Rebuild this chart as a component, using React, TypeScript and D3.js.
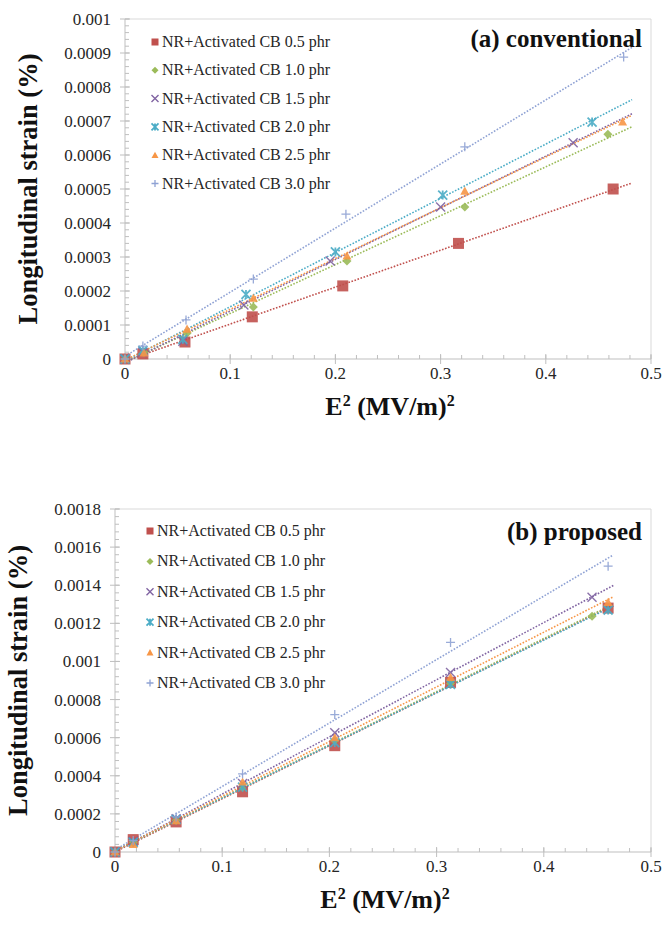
import React from "react";
import * as d3 from "d3";

// legend names, colours and marker shapes, in series order
const seriesNames = [
  "NR+Activated CB 0.5 phr",
  "NR+Activated CB 1.0 phr",
  "NR+Activated CB 1.5 phr",
  "NR+Activated CB 2.0 phr",
  "NR+Activated CB 2.5 phr",
  "NR+Activated CB 3.0 phr",
];
const seriesColors = ["#c0504d", "#9bbb59", "#8064a2", "#4bacc6", "#f79646", "#8fa2d4"];
const seriesShapes = ["square", "diamond", "cross", "star", "triangle", "plus"];

// (a) conventional: E^2 values and strain for each loading
const convX = [
  [0, 0.017, 0.057, 0.121, 0.207, 0.317, 0.464],
  [0, 0.018, 0.059, 0.122, 0.211, 0.323, 0.459],
  [0, 0.017, 0.055, 0.113, 0.195, 0.3, 0.426],
  [0, 0.017, 0.055, 0.115, 0.2, 0.302, 0.444],
  [0, 0.018, 0.059, 0.122, 0.211, 0.323, 0.473],
  [0, 0.017, 0.058, 0.122, 0.21, 0.323, 0.474],
];
const convY = [
  [0, 0.000015, 0.00005, 0.000124, 0.000215, 0.00034, 0.0005],
  [0, 0.00002, 0.000076, 0.000153, 0.000288, 0.000447, 0.000661],
  [0, 0.00002, 0.000052, 0.000159, 0.000288, 0.000447, 0.000636],
  [0, 0.000025, 0.000058, 0.00019, 0.000315, 0.000482, 0.000697],
  [0, 0.000018, 0.000088, 0.000179, 0.000303, 0.000494, 0.000697],
  [0, 0.000038, 0.000115, 0.000235, 0.000426, 0.000624, 0.000888],
];

// (b) proposed
const propX = [
  [0, 0.017, 0.057, 0.119, 0.205, 0.313, 0.46],
  [0, 0.017, 0.057, 0.119, 0.205, 0.313, 0.445],
  [0, 0.017, 0.057, 0.119, 0.205, 0.313, 0.445],
  [0, 0.017, 0.057, 0.119, 0.205, 0.313, 0.46],
  [0, 0.017, 0.057, 0.119, 0.205, 0.313, 0.46],
  [0, 0.017, 0.057, 0.119, 0.205, 0.313, 0.46],
];
const propY = [
  [0, 0.000065, 0.000158, 0.000316, 0.000558, 0.00089, 0.00128],
  [0, 0.00005, 0.000165, 0.00034, 0.000585, 0.000884, 0.001237],
  [0, 0.000055, 0.000175, 0.00036, 0.000626, 0.000942, 0.001337],
  [0, 0.00005, 0.00017, 0.00034, 0.000574, 0.00088, 0.00127],
  [0, 0.00004, 0.000165, 0.000368, 0.0006, 0.000916, 0.00131],
  [0, 0.00006, 0.000184, 0.00041, 0.000721, 0.0011, 0.0015],
];

// where the dotted trendlines stop (E^2)
const convTrendEnd = 0.482;
const propTrendEnd = 0.465;

const xTicks = [0, 0.1, 0.2, 0.3, 0.4, 0.5];
const convYTicks = [0, 0.0001, 0.0002, 0.0003, 0.0004, 0.0005, 0.0006, 0.0007, 0.0008, 0.0009, 0.001];
const propYTicks = [0, 0.0002, 0.0004, 0.0006, 0.0008, 0.001, 0.0012, 0.0014, 0.0016, 0.0018];

const FONT = "'Liberation Serif', 'Times New Roman', serif";

function Marker({ shape, x, y, s, color }) {
  const h = s / 2;
  if (shape === "square") return <rect x={x - h} y={y - h} width={s} height={s} fill={color} />;
  if (shape === "diamond")
    return <path d={`M${x},${y - h}L${x + h},${y}L${x},${y + h}L${x - h},${y}Z`} fill={color} />;
  if (shape === "triangle")
    return <path d={`M${x},${y - h}L${x + h},${y + h * 0.8}L${x - h},${y + h * 0.8}Z`} fill={color} />;
  if (shape === "cross")
    return (
      <path d={`M${x - h},${y - h}L${x + h},${y + h}M${x - h},${y + h}L${x + h},${y - h}`} stroke={color} strokeWidth={1.4} />
    );
  if (shape === "star")
    return (
      <path
        d={`M${x - h},${y - h}L${x + h},${y + h}M${x - h},${y + h}L${x + h},${y - h}M${x},${y - h}L${x},${y + h}`}
        stroke={color}
        strokeWidth={1.8}
      />
    );
  return <path d={`M${x - h},${y}L${x + h},${y}M${x},${y - h}L${x},${y + h}`} stroke={color} strokeWidth={1.3} />;
}

function linReg(pts: [number, number][]) {
  const mx = d3.mean(pts, (d) => d[0]);
  const my = d3.mean(pts, (d) => d[1]);
  const sxy = d3.sum(pts, (d) => (d[0] - mx) * (d[1] - my));
  const sxx = d3.sum(pts, (d) => (d[0] - mx) ** 2);
  const m = sxy / sxx;
  return { m, b: my - m * mx };
}

function Panel({ box, xs, ys, yTicks, yMax, yMinorStep, trendEnd, label, labelY, legendTop, legendStep, legendX }) {
  const x = d3.scaleLinear().domain([0, 0.5]).range([box.left, box.right]);
  const y = d3.scaleLinear().domain([0, yMax]).range([box.bottom, box.top]);
  const xMinor = d3.range(0, 0.5 + 1e-9, 0.02);
  const yMinor = d3.range(0, yMax + 1e-12, yMinorStep);
  const line = d3.line<[number, number]>().x((d) => x(d[0])).y((d) => y(d[1]));

  return (
    <g>
      {/* frame */}
      <line x1={box.left} x2={box.right} y1={box.top} y2={box.top} stroke="#d9d9d9" />
      <line x1={box.right} x2={box.right} y1={box.top} y2={box.bottom} stroke="#d9d9d9" />
      <line x1={box.left} x2={box.right} y1={box.bottom} y2={box.bottom} stroke="#bfbfbf" />
      <line x1={box.left} x2={box.left} y1={box.top} y2={box.bottom} stroke="#bfbfbf" />
      {xMinor.map((t, i) => (
        <line key={"xm" + i} x1={x(t)} x2={x(t)} y1={box.bottom} y2={box.bottom - 4} stroke="#bfbfbf" />
      ))}
      {xTicks.map((t) => (
        <g key={"x" + t}>
          <line x1={x(t)} x2={x(t)} y1={box.bottom - 5} y2={box.bottom + 5} stroke="#bfbfbf" />
          <text x={x(t)} y={box.bottom + 20} textAnchor="middle" fontSize={17} fill="#262626" fontFamily={FONT}>
            {t}
          </text>
        </g>
      ))}
      {yMinor.map((t, i) => (
        <line key={"ym" + i} x1={box.left} x2={box.left + 4} y1={y(t)} y2={y(t)} stroke="#bfbfbf" />
      ))}
      {yTicks.map((t) => (
        <g key={"y" + t}>
          <line x1={box.left - 5} x2={box.left + 5} y1={y(t)} y2={y(t)} stroke="#bfbfbf" />
          <text x={box.left - 14} y={y(t) + 6} textAnchor="end" fontSize={17} fill="#262626" fontFamily={FONT}>
            {+t.toPrecision(4)}
          </text>
        </g>
      ))}

      {/* trendlines */}
      {xs.map((sx, i) => {
        const reg = linReg(sx.map((v, j) => [v, ys[i][j]] as [number, number]));
        return (
          <path
            key={"t" + i}
            d={line([
              [0, reg.b],
              [trendEnd, reg.b + reg.m * trendEnd],
            ])}
            fill="none"
            stroke={seriesColors[i]}
            strokeWidth={1.6}
            strokeDasharray="1.6 1.6"
          />
        );
      })}

      {/* markers */}
      {xs.map((sx, i) => (
        <g key={"m" + i} opacity={0.9}>
          {sx.map((v, j) => (
            <Marker key={j} shape={seriesShapes[i]} x={x(v)} y={y(ys[i][j])} s={i === 0 ? 11 : 9} color={seriesColors[i]} />
          ))}
        </g>
      ))}

      {/* legend */}
      {seriesNames.map((n, i) => (
        <g key={"l" + i}>
          <Marker shape={seriesShapes[i]} x={legendX} y={legendTop + i * legendStep - 5} s={7} color={seriesColors[i]} />
          <text x={legendX + 7} y={legendTop + i * legendStep} fontSize={16} fill="#262626" fontFamily={FONT}>
            {n}
          </text>
        </g>
      ))}

      <text x={box.right - 9} y={labelY} textAnchor="end" fontSize={25} fontWeight="bold" fill="#111" fontFamily={FONT}>
        {label}
      </text>

      {/* axis titles */}
      <text
        transform={`translate(${box.left - 88},${(box.top + box.bottom) / 2}) rotate(-90)`}
        textAnchor="middle"
        fontSize={26.5}
        fontWeight="bold"
        fill="#111"
        fontFamily={FONT}
      >
        Longitudinal strain (%)
      </text>
      <text
        x={(box.left + box.right) / 2 + 2}
        y={box.bottom + 56}
        textAnchor="middle"
        fontSize={26}
        fontWeight="bold"
        fill="#111"
        fontFamily={FONT}
      >
        E<tspan fontSize={16} dy={-9}>2</tspan>
        <tspan dy={9}> (MV/m)</tspan>
        <tspan fontSize={16} dy={-9}>2</tspan>
      </text>
    </g>
  );
}

export default function App() {
  return (
    <svg width={665} height={927} style={{ position: "absolute", left: 0, top: 0, background: "#fff" }}>
      <Panel
        box={{ left: 125, right: 651, top: 19, bottom: 359 }}
        xs={convX}
        ys={convY}
        yTicks={convYTicks}
        yMax={0.001}
        yMinorStep={0.00002}
        trendEnd={convTrendEnd}
        label="(a) conventional"
        labelY={47}
        legendTop={47}
        legendStep={28.3}
        legendX={155}
      />
      <Panel
        box={{ left: 115, right: 651, top: 509, bottom: 852 }}
        xs={propX}
        ys={propY}
        yTicks={propYTicks}
        yMax={0.0018}
        yMinorStep={0.00004}
        trendEnd={propTrendEnd}
        label="(b) proposed"
        labelY={540}
        legendTop={536}
        legendStep={30.4}
        legendX={150}
      />
    </svg>
  );
}
